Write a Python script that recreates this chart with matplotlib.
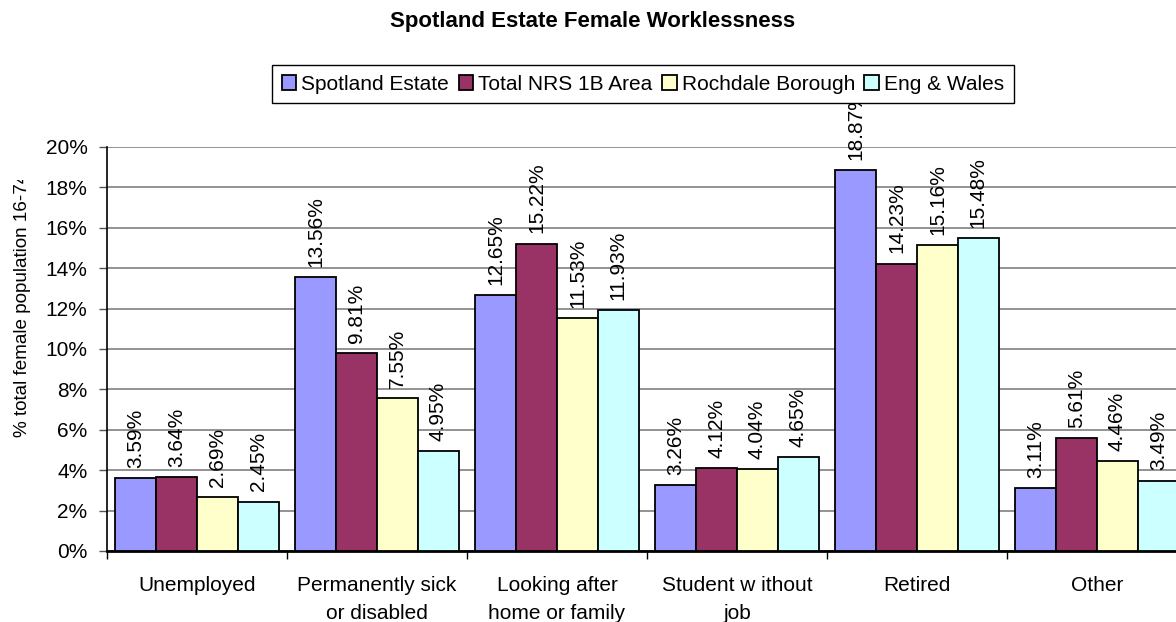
"""
Spotland Estate female worklessness - grouped bar chart
"""

import numpy as np
from matplotlib import pyplot as plt
from matplotlib.transforms import Bbox, TransformedBbox

plt.rcParams['font.family'] = ['Liberation Sans', 'DejaVu Sans']

categories = ["Unemployed", "Permanently sick\nor disabled", "Looking after\nhome or family",
              "Student w ithout\njob", "Retired", "Other"]
series_names = ["Spotland Estate", "Total NRS 1B Area", "Rochdale Borough", "Eng & Wales"]
spotland = [3.59, 13.56, 12.65, 3.26, 18.87, 3.11]
nrs_1b = [3.64, 9.81, 15.22, 4.12, 14.23, 5.61]
rochdale = [2.69, 7.55, 11.53, 4.04, 15.16, 4.46]
eng_wales = [2.45, 4.95, 11.93, 4.65, 15.48, 3.49]
colors = ["#9999FF", "#993366", "#FFFFCC", "#CCFFFF"]

series = [spotland, nrs_1b, rochdale, eng_wales]

W, H = 1176, 622
fig = plt.figure(figsize=(W / 100, H / 100), dpi=100)
ax = fig.add_axes([107 / W, 71 / H, 1080 / W, 404 / H])

x = np.arange(len(categories))
width = 1 / 4.4
handles = []
for j, (vals, name, col) in enumerate(zip(series, series_names, colors)):
    pos = x + (j - 1.5) * width
    b = ax.bar(pos, vals, width, color=col, edgecolor='black', linewidth=1.3, label=name, zorder=3)
    handles.append(b)
    for px, v in zip(pos, vals):
        ax.text(px, v + 0.5, "%.2f%%" % v, rotation=90, ha='center', va='bottom',
                fontsize=15, clip_on=False, zorder=4)

ax.set_xlim(-0.5, len(categories) - 0.5)
ax.set_ylim(0, 20)
ax.set_yticks(range(0, 21, 2))
ax.set_yticklabels(["%d%%" % t for t in range(0, 21, 2)], fontsize=15)
ax.yaxis.grid(True, color='#808080', linewidth=1.2, zorder=0)
ax.set_axisbelow(True)

ax.set_xticks(x)
ax.set_xticklabels(categories, fontsize=15, linespacing=1.6)
ax.set_xticks(np.arange(-0.5, len(categories), 1), minor=True)
ax.tick_params(axis='x', which='major', length=0, pad=18)
ax.tick_params(axis='x', which='minor', length=6, width=1, direction='out', color='black')
ax.tick_params(axis='y', length=6, width=1, color='#555555', pad=8)

for s in ['top', 'right']:
    ax.spines[s].set_visible(False)
ax.spines['left'].set_linewidth(1.2)
ax.spines['bottom'].set_linewidth(2)

fig.text(593 / W, 1 - 21 / H, "Spotland Estate Female Worklessness", ha='center', va='center',
         fontsize=16, fontweight='bold')

ylab = fig.text(23 / W, 1 - 437 / H, "% total female population 16-74", rotation=90,
                ha='center', va='bottom', fontsize=13.6)
ylab.set_clip_box(TransformedBbox(Bbox([[0, 0], [1, 1 - 180 / H]]), fig.transFigure))
ylab.set_clip_on(True)

leg = fig.legend(handles=handles, labels=series_names, loc='center',
                 bbox_to_anchor=(643 / W, 1 - 84 / H), ncol=4, fontsize=15,
                 frameon=True, fancybox=False, edgecolor='black', framealpha=1,
                 handlelength=0.7, handleheight=0.7, handletextpad=0.25,
                 columnspacing=0.45, borderpad=0.45)
leg.get_frame().set_linewidth(1)
leg.set_zorder(10)

plt.savefig('out.png', dpi=100)
